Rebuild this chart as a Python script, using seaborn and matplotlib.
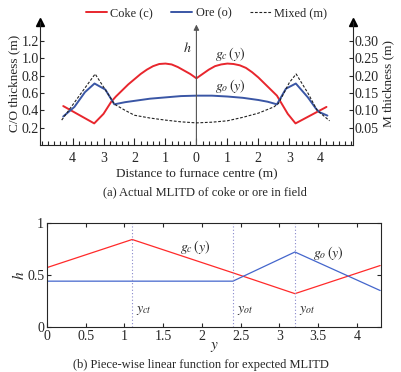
import numpy as np
import pandas as pd
import matplotlib
matplotlib.use('Agg')
import matplotlib.pyplot as plt
import seaborn as sns

# ============================================================================
# Data
# ============================================================================

# (a) measured layer thickness vs signed distance to furnace centre (m)
coke_x = [-4.3, -3.3, -3.0, -2.75, -2.6, -2.4, -2.2, -2.0, -1.8, -1.6, -1.4, -1.2,
          -1.0, -0.8, -0.6, -0.4, -0.2, 0.0, 0.2, 0.4, 0.6, 0.8, 1.0, 1.2, 1.4,
          1.6, 1.8, 2.0, 2.2, 2.4, 2.6, 2.75, 2.95, 3.2, 4.2]
coke_y = [0.45, 0.25, 0.36, 0.50, 0.56, 0.63, 0.70, 0.76, 0.82, 0.87, 0.91, 0.935,
          0.94, 0.93, 0.90, 0.86, 0.82, 0.77, 0.82, 0.87, 0.91, 0.93, 0.94, 0.935, 0.92,
          0.89, 0.84, 0.78, 0.71, 0.64, 0.57, 0.48, 0.36, 0.25, 0.44]

ore_x = [-4.3, -3.94, -3.6, -3.29, -2.94, -2.65, -2.3, -2.0, -1.5, -1.0, -0.5, 0.0,
         0.5, 1.0, 1.5, 2.0, 2.3, 2.6, 2.89, 3.21, 3.6, 3.86, 3.97, 4.23]
ore_y = [0.33, 0.44, 0.61, 0.71, 0.64, 0.47, 0.495, 0.51, 0.535, 0.55, 0.565, 0.57,
         0.57, 0.56, 0.545, 0.52, 0.50, 0.47, 0.65, 0.71, 0.55, 0.42, 0.38, 0.34]

mixed_x = [-4.35, -3.8, -3.27, -2.8, -2.65, -2.3, -2.0, -1.5, -1.0, -0.5, 0.0,
           0.5, 1.0, 1.5, 2.0, 2.5, 2.65, 3.0, 3.22, 3.6, 3.9, 4.3]
mixed_m = [0.072, 0.14, 0.205, 0.14, 0.118, 0.10, 0.086, 0.078, 0.072, 0.067, 0.064,
           0.066, 0.070, 0.080, 0.092, 0.11, 0.12, 0.18, 0.205, 0.15, 0.10, 0.07]

dist_ticks = [-4, -3, -2, -1, 0, 1, 2, 3, 4]
dist_labels = ['4', '3', '2', '1', '0', '1', '2', '3', '4']
co_ticks = [0.2, 0.4, 0.6, 0.8, 1.0, 1.2]
m_ticks = [0.05, 0.10, 0.15, 0.20, 0.25, 0.30]

# (b) piece-wise linear expected profile
y_pts = [0.0, 1.1, 2.4, 3.2, 4.3]
gc_pts = [0.57, 0.84, 0.52, 0.32, 0.59]
go_pts = [0.44, 0.44, 0.44, 0.72, 0.35]
y_marks = [1.1, 2.4, 3.2]
y_mark_labels = ['$y_{ct}$', '$y_{ot}$', '$y_{ot}$']

# ============================================================================
# Style
# ============================================================================
sns.set_style('ticks')
plt.rcParams['font.family'] = ['Liberation Serif', 'DejaVu Serif']
plt.rcParams['mathtext.fontset'] = 'stix'
plt.rcParams['font.size'] = 9.5
plt.rcParams['axes.linewidth'] = 0.8

red_a = '#e8262d'
blue_a = '#3a56a5'

fig = plt.figure(figsize=(4.01, 3.72), dpi=100)

# ============================================================================
# (a) Actual MLITD
# ============================================================================
ax = fig.add_axes([0.0998, 0.610, 0.780, 0.331])
ax2 = ax.twinx()

df_c = pd.DataFrame({'x': coke_x, 'y': coke_y})
df_o = pd.DataFrame({'x': ore_x, 'y': ore_y})
df_m = pd.DataFrame({'x': mixed_x, 'm': mixed_m})

sns.lineplot(data=df_c, x='x', y='y', ax=ax, color=red_a, lw=1.4,
             estimator=None, sort=False, label='Coke (c)', legend=False)
sns.lineplot(data=df_o, x='x', y='y', ax=ax, color=blue_a, lw=1.4,
             estimator=None, sort=False, label='Ore (o)', legend=False)
sns.lineplot(data=df_m, x='x', y='m', ax=ax2, color='#222222', lw=0.8,
             linestyle=(0, (2.5, 1.5)), estimator=None, sort=False,
             label='Mixed (m)', legend=False)

ax.set_xlim(-5.05, 5.05)
ax.set_ylim(0, 1.42)
ax2.set_ylim(0, 0.355)

ax.set_xticks(dist_ticks)
ax.set_xticklabels(dist_labels)
ax.set_xticks(np.arange(-5.0, 5.01, 0.2), minor=True)
ax.set_yticks(co_ticks)
ax.set_yticklabels([f'{v:.1f}' for v in co_ticks])
ax2.set_yticks(m_ticks)
ax2.set_yticklabels([f'{v:.2f}' for v in m_ticks])

ax.tick_params(axis='x', direction='in', length=5, width=0.8, pad=5, labelsize=10)
ax.tick_params(axis='x', which='minor', direction='in', length=3, width=0.8)
ax.tick_params(axis='y', direction='in', length=3, width=0.8, pad=1, labelsize=10)
ax2.tick_params(axis='y', direction='in', length=3, width=0.8, pad=1, labelsize=10)

for a in (ax, ax2):
    a.spines['top'].set_visible(False)
ax.spines['right'].set_visible(False)
ax2.spines['left'].set_visible(False)
ax2.spines['bottom'].set_visible(False)

# axis arrows
ax.plot([0], [1], marker='^', ms=6, color='black', transform=ax.transAxes, clip_on=False)
ax.plot([1], [1], marker='^', ms=6, color='black', transform=ax.transAxes, clip_on=False)
ax.annotate('', xy=(0, 1.39), xytext=(0, 0), xycoords='data',
            arrowprops=dict(arrowstyle='-|>', color='#555555', lw=0.8,
                            mutation_scale=8, shrinkA=0, shrinkB=0))
ax.text(-0.17, 1.12, '$h$', ha='right', va='center', fontsize=10)
ax.text(1.1, 1.05, '$g_c\\,(y)$', ha='center', va='center', fontsize=10)
ax.text(1.1, 0.68, '$g_o\\,(y)$', ha='center', va='center', fontsize=10)

ax.set_xlabel('Distance to furnace centre (m)', labelpad=2)
ax.set_ylabel('C/O thickness (m)', labelpad=1)
ax2.set_ylabel('M thickness (m)', labelpad=3)

handles = ax.get_lines()[:2] + ax2.get_lines()[:1]
fig.legend(handles, ['Coke (c)', 'Ore (o)', 'Mixed (m)'], loc='center',
           bbox_to_anchor=(0.515, 0.963), ncol=3, frameon=False,
           handlelength=1.7, columnspacing=1.5, handletextpad=0.3,
           fontsize=8.8)

fig.text(0.51, 0.483, '(a) Actual MLITD of coke or ore in field',
         ha='center', va='center', fontsize=9)

# ============================================================================
# (b) Piece-wise linear function
# ============================================================================
bx = fig.add_axes([0.117, 0.121, 0.833, 0.280])
df_b = pd.DataFrame({'y': y_pts, 'gc': gc_pts, 'go': go_pts})
sns.lineplot(data=df_b, x='y', y='gc', ax=bx, color='#ff2a2a', lw=0.9,
             estimator=None, sort=False)
sns.lineplot(data=df_b, x='y', y='go', ax=bx, color='#4466cc', lw=0.9,
             estimator=None, sort=False)
for xm, lab in zip(y_marks, y_mark_labels):
    bx.axvline(xm, color='#8888cc', lw=0.8, linestyle=(0, (1, 2)))
    bx.text(xm + 0.05, 0.16, lab, ha='left', va='center', fontsize=10)
bx.text(1.72, 0.77, '$g_c\\,(y)$', ha='left', va='center', fontsize=10)
bx.text(3.43, 0.71, '$g_o\\,(y)$', ha='left', va='center', fontsize=10)

bx.set_xlim(0, 4.31)
bx.set_ylim(0, 1)
bx.set_xticks([0, 0.5, 1, 1.5, 2, 2.5, 3, 3.5, 4])
bx.set_xticklabels(['0', '0.5', '1', '1.5', '2', '2.5', '3', '3.5', '4'])
bx.set_yticks([0, 0.5, 1])
bx.set_yticklabels(['0', '0.5', '1'])
bx.tick_params(direction='in', top=True, right=True, length=3, width=0.8, pad=2,
               labelsize=10)
for s in bx.spines.values():
    s.set_visible(True)
bx.set_xlabel('$y$', labelpad=-2, fontsize=11)
bx.set_ylabel('$h$', labelpad=0, fontsize=11)

fig.text(0.5, 0.019, '(b) Piece-wise linear function for expected MLITD',
         ha='center', va='center', fontsize=9)

plt.savefig('out.png', dpi=100, facecolor='white')
